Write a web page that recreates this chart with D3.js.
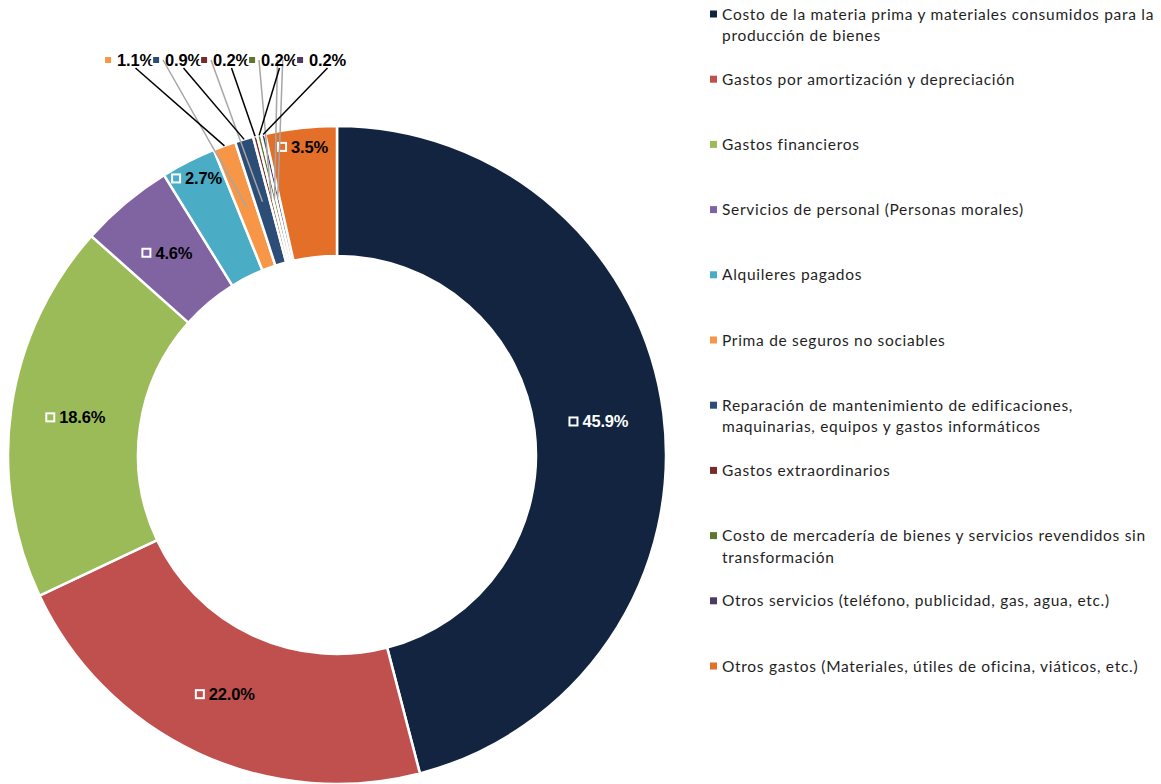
<!DOCTYPE html>
<html>
<head>
<meta charset="utf-8">
<script src="https://cdn.jsdelivr.net/npm/d3@7"></script>
<style>
  html, body { margin: 0; padding: 0; background: #fff; }
  svg { display: block; }
</style>
</head>
<body>
<div id="chart"></div>
<script>
// chart data
var categories = [
  "Costo de la materia prima y materiales consumidos para la\nproducción de bienes",
  "Gastos por amortización y depreciación",
  "Gastos financieros",
  "Servicios de personal (Personas morales)",
  "Alquileres pagados",
  "Prima de seguros no sociables",
  "Reparación de mantenimiento de edificaciones,\nmaquinarias, equipos y gastos informáticos",
  "Gastos extraordinarios",
  "Costo de mercadería de bienes y servicios revendidos sin\ntransformación",
  "Otros servicios (teléfono, publicidad, gas, agua, etc.)",
  "Otros gastos (Materiales, útiles de oficina, viáticos, etc.)"
];
var values = [45.9, 22.0, 18.6, 4.6, 2.7, 1.1, 0.9, 0.2, 0.2, 0.2, 3.5];
var colors = [
  "#12243f", "#c0504d", "#9bbb59", "#8064a2", "#4bacc6", "#f79646",
  "#2c4d75", "#772c2a", "#5f7530", "#4d3b62", "#e46f28"
];

var width = 1161, height = 784;
var cx = 337, cy = 455;
var outerR = 329, innerR = 199;

var svg = d3.select( "#chart" ).append( "svg" )
  .attr( "width", width ).attr( "height", height );

var items = values.map( function( v, i ) {
  return { name: categories[ i ], value: v, color: colors[ i ], index: i };
} );

var pie = d3.pie().sort( null ).value( function( d ) { return d.value; } );
var arcs = pie( items );
var arc = d3.arc().innerRadius( innerR ).outerRadius( outerR );
var fmt = function( v ) { return d3.format( ".1f" )( v ) + "%"; };

var g = svg.append( "g" ).attr( "transform", "translate(" + cx + "," + cy + ")" );

g.selectAll( "path.slice" ).data( arcs ).enter().append( "path" )
  .attr( "class", "slice" )
  .attr( "d", arc )
  .attr( "fill", function( d ) { return d.data.color; } )
  .attr( "stroke", "#fff" )
  .attr( "stroke-width", 2.5 );

function polar( r, a ) {
  return [ r * Math.sin( a ), -r * Math.cos( a ) ];
}
function mid( d ) { return ( d.startAngle + d.endAngle ) / 2; }

var labelFont = "'Liberation Sans', Arial, sans-serif";

// marker square + value text, centred on (x, y); returns the text centre x
function drawLabel( parent, d, x, y ) {
  var lg = parent.append( "g" );
  var txt = lg.append( "text" )
    .attr( "font-family", labelFont )
    .attr( "font-weight", "bold" )
    .attr( "font-size", 16.5 )
    .attr( "letter-spacing", -0.2 )
    .attr( "fill", d3.hsl( d.data.color ).l < 0.3 ? "#fff" : "#000" )
    .text( fmt( d.data.value ) );
  var tw = txt.node().getComputedTextLength();
  var total = 8 + 5 + tw;
  var x0 = x - total / 2;
  lg.insert( "rect", "text" )
    .attr( "x", x0 ).attr( "y", y - 4 )
    .attr( "width", 8 ).attr( "height", 8 )
    .attr( "fill", d.data.color )
    .attr( "stroke", "#fff" ).attr( "stroke-width", 2 );
  txt.attr( "x", x0 + 13 ).attr( "y", y + 6 );
  return x0 + 13 + tw / 2;
}

// labels inside the ring
var inside = arcs.filter( function( d ) { return d.data.value >= 2; } );
inside.forEach( function( d ) {
  var r = d.data.value >= 4 ? ( innerR + outerR ) / 2 : outerR - 19;
  var p = polar( r, mid( d ) );
  drawLabel( g, d, p[ 0 ], p[ 1 ] );
} );

// small slices: labels in a row above the ring, with leader lines
var outside = arcs.filter( function( d ) { return d.data.value < 2; } );
var rowY = 60 - cy, rowX0 = 129 - cx, rowStep = 48;
var lines = g.append( "g" );
var row = g.append( "g" );
outside.forEach( function( d, i ) {
  var lx = rowX0 + i * rowStep;
  var c = polar( ( innerR + outerR ) / 2, mid( d ) );
  var o = polar( outerR, mid( d ) );
  var gx = i < outside.length - 1 ? Math.min( rowX0 + ( i + 1 ) * rowStep - 14, c[ 0 ] + 3 ) : c[ 0 ] + 5;
  lines.append( "line" )
    .attr( "x1", gx ).attr( "y1", rowY ).attr( "x2", c[ 0 ] ).attr( "y2", c[ 1 ] )
    .attr( "stroke", "#a6a6a6" ).attr( "stroke-width", 1.5 );
  var tx = drawLabel( row, d, lx, rowY );
  lines.append( "line" )
    .attr( "x1", tx ).attr( "y1", rowY + 8 ).attr( "x2", o[ 0 ] ).attr( "y2", o[ 1 ] )
    .attr( "stroke", "#000" ).attr( "stroke-width", 1.5 );
} );

// legend
var legend = svg.append( "g" ).attr( "transform", "translate(710,0)" );
var step = 65.2;
items.forEach( function( d, i ) {
  var y = 14 + i * step;
  legend.append( "rect" )
    .attr( "x", 0 ).attr( "y", y - 3.5 )
    .attr( "width", 7 ).attr( "height", 7 )
    .attr( "fill", d.color );
  var t = legend.append( "text" )
    .attr( "font-family", "Lato, 'Open Sans', sans-serif" )
    .attr( "font-size", 15.5 )
    .attr( "letter-spacing", 0.7 )
    .attr( "fill", "#1f1f1f" );
  d.name.split( "\n" ).forEach( function( line, j ) {
    t.append( "tspan" )
      .attr( "x", 12 )
      .attr( "y", y + 5.5 + j * 21.5 )
      .text( line );
  } );
} );
</script>
</body>
</html>
